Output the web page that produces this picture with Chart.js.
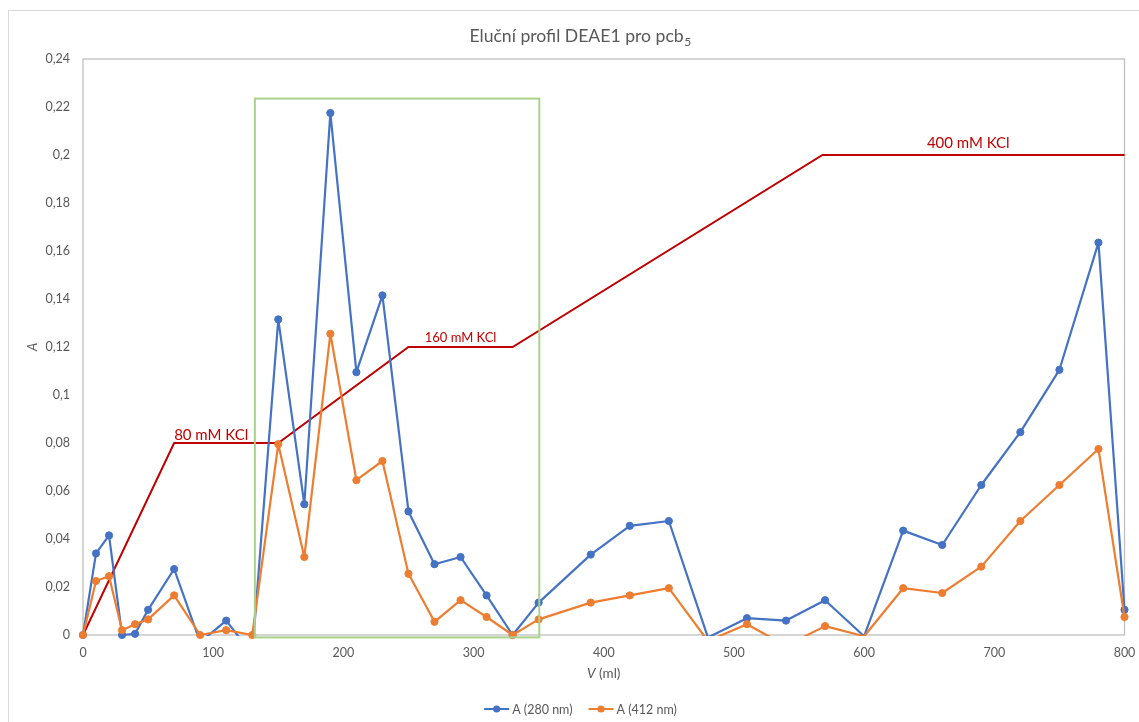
<!DOCTYPE html>
<html>
<head>
<meta charset="utf-8">
<title>Eluční profil DEAE1 pro pcb5</title>
<script src="https://cdn.jsdelivr.net/npm/chart.js@4.4.1/dist/chart.umd.min.js"></script>
<style>
  html, body { margin: 0; padding: 0; background: #ffffff; }
  #wrap { width: 1139px; height: 722px; position: relative; }
  canvas { display: block; }
</style>
</head>
<body>
<div id="wrap"><canvas id="chart" width="1139" height="722"></canvas></div>
<script>
// Elution volumes (ml) of the collected fractions
const volumes = [0, 10, 20, 30, 40, 50, 70, 90, 110, 130, 150, 170, 190, 210, 230, 250, 270, 290, 310, 330,
                 350, 390, 420, 450, 480, 510, 540, 570, 600, 630, 660, 690, 720, 750, 780, 800];

// Absorbance at 280 nm
const abs280 = [0, 0.034, 0.0415, 0, 0.0005, 0.0105, 0.0275, -0.003, 0.006, -0.008, 0.1315, 0.0545, 0.2175, 0.1095,
                0.1415, 0.0515, 0.0295, 0.0325, 0.0165, 0, 0.0135, 0.0335, 0.0455, 0.0475, -0.001, 0.007, 0.006,
                0.0145, -0.0005, 0.0435, 0.0375, 0.0625, 0.0845, 0.1105, 0.1635, 0.0105];

// Absorbance at 412 nm
const abs412 = [0, 0.0225, 0.0245, 0.002, 0.0045, 0.0065, 0.0165, 0, 0.002, 0, 0.0795, 0.0325, 0.1255, 0.0645,
                0.0725, 0.0255, 0.0055, 0.0145, 0.0075, 0, 0.0065, 0.0135, 0.0165, 0.0195, -0.0025, 0.0045, -0.0045,
                0.0037, -0.0005, 0.0195, 0.0175, 0.0285, 0.0475, 0.0625, 0.0775, 0.0075];

// KCl step gradient, sketched on the absorbance scale
const kclVolumes = [0, 70, 150, 250, 330, 568, 800];
const kclLevels  = [0, 0.08, 0.08, 0.12, 0.12, 0.2, 0.2];
const kclSteps   = ['80 mM KCl', '160 mM KCl', '400 mM KCl'];
const kclStepAt  = [70, 290, 680];        // volume where each step label sits
const kclStepLvl = [0.08, 0.12, 0.2];

// Pooled fractions window (volume range and absorbance range)
const poolVolumes = [132, 350.5];
const poolAbs     = [-0.001, 0.2235];

// Axis ranges
const xRange = [0, 800], xStep = 100;
const yRange = [0, 0.24], yStep = 0.02;

const seriesNames = ['A (280 nm)', 'A (412 nm)'];

const BLUE = '#4472C4', ORANGE = '#ED7D31', RED = '#C00000', GREEN = '#A9D18E';
const TEXT = '#595959', FRAME = '#BFBFBF';
const FONT = 'Lato, "Open Sans", "DejaVu Sans", sans-serif';

const toPoints = (xs, ys) => xs.map((x, i) => ({ x, y: ys[i] }));
// markers are only shown for values on or above the axis minimum
const markerRadius = ctx => (ctx.raw && ctx.raw.y < 0) ? 0 : 3.6;

const seriesStyle = color => ({
  borderColor: color,
  backgroundColor: color,
  pointBackgroundColor: color,
  pointBorderColor: color,
  borderWidth: 2.2,
  borderJoinStyle: 'round',
  borderCapStyle: 'round',
  pointRadius: markerRadius,
  pointBorderWidth: 1,
  tension: 0,
  clip: false
});

const decor = {
  id: 'decor',
  beforeDraw(chart) {
    const { ctx, width, height } = chart;
    ctx.save();
    ctx.fillStyle = '#ffffff';
    ctx.fillRect(0, 0, width, height);
    ctx.strokeStyle = '#D9D9D9';
    ctx.lineWidth = 1;
    ctx.strokeRect(8.5, 10.5, width + 20, height + 20);
    ctx.restore();
  },
  beforeDatasetsDraw(chart) {
    const { ctx, chartArea: a } = chart;
    ctx.save();
    ctx.strokeStyle = FRAME;
    ctx.lineWidth = 1.3;
    ctx.strokeRect(a.left, a.top, a.right - a.left, a.bottom - a.top);
    ctx.restore();
  },
  beforeDatasetDraw(chart, args) {
    // clip lines at the plot area, but keep whole markers sitting on the axis
    const { ctx, chartArea: a } = chart;
    ctx.save();
    ctx.beginPath();
    ctx.rect(a.left - 10, a.top - 10, a.right - a.left + 20, a.bottom - a.top + 11);
    args.meta.data.forEach(pt => {
      if (pt.options && pt.options.radius > 0) {
        ctx.moveTo(pt.x + 6, pt.y);
        ctx.arc(pt.x, pt.y, 6, 0, Math.PI * 2);
      }
    });
    ctx.clip();
  },
  afterDatasetDraw(chart) {
    chart.ctx.restore();
  },
  afterDatasetsDraw(chart) {
    const { ctx, scales: { x, y } } = chart;
    ctx.save();
    // pooled fractions window
    const x0 = x.getPixelForValue(poolVolumes[0]), x1 = x.getPixelForValue(poolVolumes[1]);
    const y0 = y.getPixelForValue(poolAbs[1]), y1 = y.getPixelForValue(poolAbs[0]);
    ctx.strokeStyle = GREEN;
    ctx.lineWidth = 2;
    ctx.strokeRect(x0, y0, x1 - x0, y1 - y0);

    // gradient step labels
    ctx.fillStyle = RED;
    ctx.textBaseline = 'alphabetic';
    const sizes = [15, 13, 15];
    const aligns = ['left', 'center', 'center'];
    const lifts = [3, 5, 7];
    kclSteps.forEach((t, i) => {
      ctx.font = `${sizes[i]}px ${FONT}`;
      ctx.textAlign = aligns[i];
      ctx.fillText(t, x.getPixelForValue(kclStepAt[i]), y.getPixelForValue(kclStepLvl[i]) - lifts[i]);
    });
    ctx.restore();
  },
  afterDraw(chart) {
    const { ctx, chartArea: a } = chart;
    ctx.save();
    ctx.fillStyle = TEXT;
    ctx.textBaseline = 'alphabetic';

    // title with subscript
    const main = 'Eluční profil DEAE1 pro pcb', sub = '5';
    ctx.font = `17.6px ${FONT}`;
    const wMain = ctx.measureText(main).width;
    ctx.font = `12px ${FONT}`;
    const wSub = ctx.measureText(sub).width;
    const tx = 580 - (wMain + wSub) / 2;
    ctx.font = `17.6px ${FONT}`;
    ctx.textAlign = 'left';
    ctx.fillText(main, tx, 42);
    ctx.font = `12px ${FONT}`;
    ctx.fillText(sub, tx + wMain + 0.5, 46);

    // y axis title
    ctx.save();
    ctx.translate(37, (a.top + a.bottom) / 2);
    ctx.rotate(-Math.PI / 2);
    ctx.font = `italic 13px ${FONT}`;
    ctx.textAlign = 'center';
    ctx.fillText('A', 0, 0);
    ctx.restore();

    // x axis title: italic V, upright unit
    ctx.font = `italic 13.5px ${FONT}`;
    const wV = ctx.measureText('V').width;
    ctx.font = `13.5px ${FONT}`;
    const wU = ctx.measureText(' (ml)').width;
    const xc = (a.left + a.right) / 2;
    const xx = xc - (wV + wU) / 2;
    ctx.textAlign = 'left';
    ctx.font = `italic 13.5px ${FONT}`;
    ctx.fillText('V', xx, 678);
    ctx.font = `13.5px ${FONT}`;
    ctx.fillText(' (ml)', xx + wV, 678);

    // legend
    const items = seriesNames.map(n => chart.data.datasets.find(d => d.label === n));
    ctx.font = `12.5px ${FONT}`;
    const sym = 25, gapT = 3, gapI = 16;
    const widths = items.map(d => sym + gapT + ctx.measureText(d.label).width);
    const total = widths.reduce((s, w) => s + w, 0) + gapI * (items.length - 1);
    let lx = 580.5 - total / 2;
    const ly = 709;
    items.forEach((d, i) => {
      ctx.strokeStyle = d.borderColor;
      ctx.lineWidth = 2;
      ctx.beginPath();
      ctx.moveTo(lx, ly);
      ctx.lineTo(lx + sym, ly);
      ctx.stroke();
      ctx.fillStyle = d.borderColor;
      ctx.beginPath();
      ctx.arc(lx + sym / 2, ly, 3.6, 0, Math.PI * 2);
      ctx.fill();
      ctx.fillStyle = TEXT;
      ctx.textBaseline = 'middle';
      ctx.fillText(d.label, lx + sym + gapT, ly + 0.5);
      lx += widths[i] + gapI;
    });
    ctx.restore();
  }
};

new Chart(document.getElementById('chart'), {
  type: 'line',
  data: {
    datasets: [
      { label: seriesNames[1], data: toPoints(volumes, abs412), order: 0, ...seriesStyle(ORANGE) },
      { label: seriesNames[0], data: toPoints(volumes, abs280), order: 1, ...seriesStyle(BLUE) },
      { label: 'KCl', data: toPoints(kclVolumes, kclLevels), order: 2,
        borderColor: RED, backgroundColor: RED, borderWidth: 2, pointRadius: 0, tension: 0, clip: false }
    ]
  },
  options: {
    responsive: false,
    devicePixelRatio: 1,
    animation: false,
    events: [],
    layout: { padding: { left: 0, top: 59, right: 14.5, bottom: 0 } },
    plugins: { legend: { display: false }, title: { display: false }, tooltip: { enabled: false } },
    scales: {
      x: {
        type: 'linear',
        min: xRange[0], max: xRange[1],
        grid: { display: false, drawTicks: false },
        border: { display: false },
        ticks: { stepSize: xStep, padding: 10, color: TEXT, font: { family: FONT, size: 12.5 },
                  callback: v => String(v) },
        afterFit: s => { s.height = 87; s.paddingLeft = 0; s.paddingRight = 0; }
      },
      y: {
        type: 'linear',
        min: yRange[0], max: yRange[1],
        grid: { display: false, drawTicks: false },
        border: { display: false },
        ticks: { stepSize: yStep, padding: 13, color: TEXT, font: { family: FONT, size: 12.5 },
                  callback: v => String(Math.round(v * 100) / 100).replace('.', ',') },
        afterFit: s => { s.width = 83; s.paddingTop = 0; s.paddingBottom = 0; }
      }
    }
  },
  plugins: [decor]
});
</script>
</body>
</html>
